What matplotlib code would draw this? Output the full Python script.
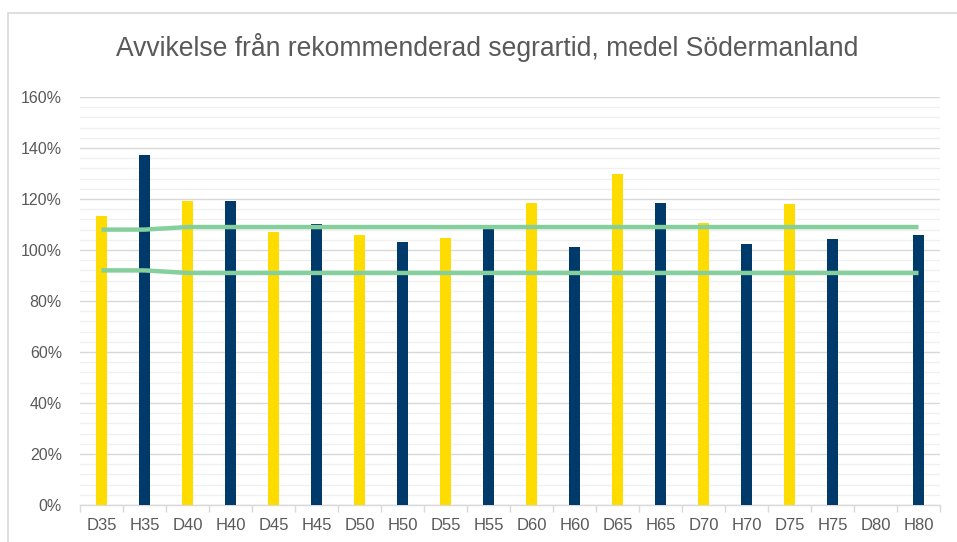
import matplotlib.pyplot as plt
import numpy as np
from matplotlib.patches import Rectangle
from matplotlib.ticker import MultipleLocator, FuncFormatter

plt.rcParams['font.family'] = ['Liberation Sans', 'DejaVu Sans']

klasser = ["D35", "H35", "D40", "H40", "D45", "H45", "D50", "H50", "D55", "H55",
           "D60", "H60", "D65", "H65", "D70", "H70", "D75", "H75", "D80", "H80"]
avvikelse = [113.3, 137.3, 119.2, 119.3, 106.9, 110.2, 105.9, 103.1, 104.7, 108.6,
             118.3, 101.0, 129.8, 118.5, 110.6, 102.4, 118.0, 104.2, np.nan, 105.8]
ovre_grans = [108, 108, 109, 109, 109, 109, 109, 109, 109, 109,
              109, 109, 109, 109, 109, 109, 109, 109, 109, 109]
undre_grans = [92, 92, 91, 91, 91, 91, 91, 91, 91, 91,
               91, 91, 91, 91, 91, 91, 91, 91, 91, 91]

gul = "#FFDC00"
bla = "#003A6B"
gron = "#84CF9C"
grå_text = "#595959"

fig = plt.figure(figsize=(9.57, 5.42), dpi=100)
# ram runt diagrammet (fortsätter utanför bilden till höger och nederst)
fig.patches.append(Rectangle((8 / 957, -0.05), 1.2, 1 - 13 / 542 + 0.05,
                             transform=fig.transFigure, fill=False,
                             edgecolor="#D9D9D9", linewidth=1.2))

ax = fig.add_axes([80 / 957, 37 / 542, 860 / 957, 408 / 542])
x = np.arange(len(klasser))
farger = [gul if k.startswith("D") else bla for k in klasser]
ax.bar(x, avvikelse, width=0.27, color=farger, zorder=3)
ax.plot(x, ovre_grans, color=gron, linewidth=3.2, zorder=4, solid_capstyle="butt")
ax.plot(x, undre_grans, color=gron, linewidth=3.2, zorder=4, solid_capstyle="butt")

ax.set_xlim(-0.5, len(klasser) - 0.5)
ax.set_ylim(0, 160)
ax.yaxis.set_major_locator(MultipleLocator(20))
ax.yaxis.set_minor_locator(MultipleLocator(4))
ax.yaxis.set_major_formatter(FuncFormatter(lambda v, p: f"{v:.0f}%"))
ax.grid(axis="y", which="major", color="#D9D9D9", linewidth=1.0, zorder=0)
ax.grid(axis="y", which="minor", color="#F0F0F0", linewidth=1.0, zorder=0)

ax.set_xticks(x)
ax.set_xticklabels(klasser)
ax.set_xticks(np.arange(-0.5, len(klasser)), minor=True)
ax.tick_params(axis="x", which="major", length=0, pad=9, labelsize=12, colors=grå_text)
ax.tick_params(axis="x", which="minor", length=5, color="#D9D9D9", width=1)
ax.tick_params(axis="y", which="both", length=0, pad=13, labelsize=11.5, colors=grå_text)

for s in ["top", "right", "left"]:
    ax.spines[s].set_visible(False)
ax.spines["bottom"].set_color("#D9D9D9")
ax.spines["bottom"].set_linewidth(1.0)

fig.text(487 / 957, 1 - 48 / 542, "Avvikelse från rekommenderad segrartid, medel Södermanland",
         ha="center", va="center", fontsize=19.1, color=grå_text)

fig.savefig("out.png", dpi=100)
